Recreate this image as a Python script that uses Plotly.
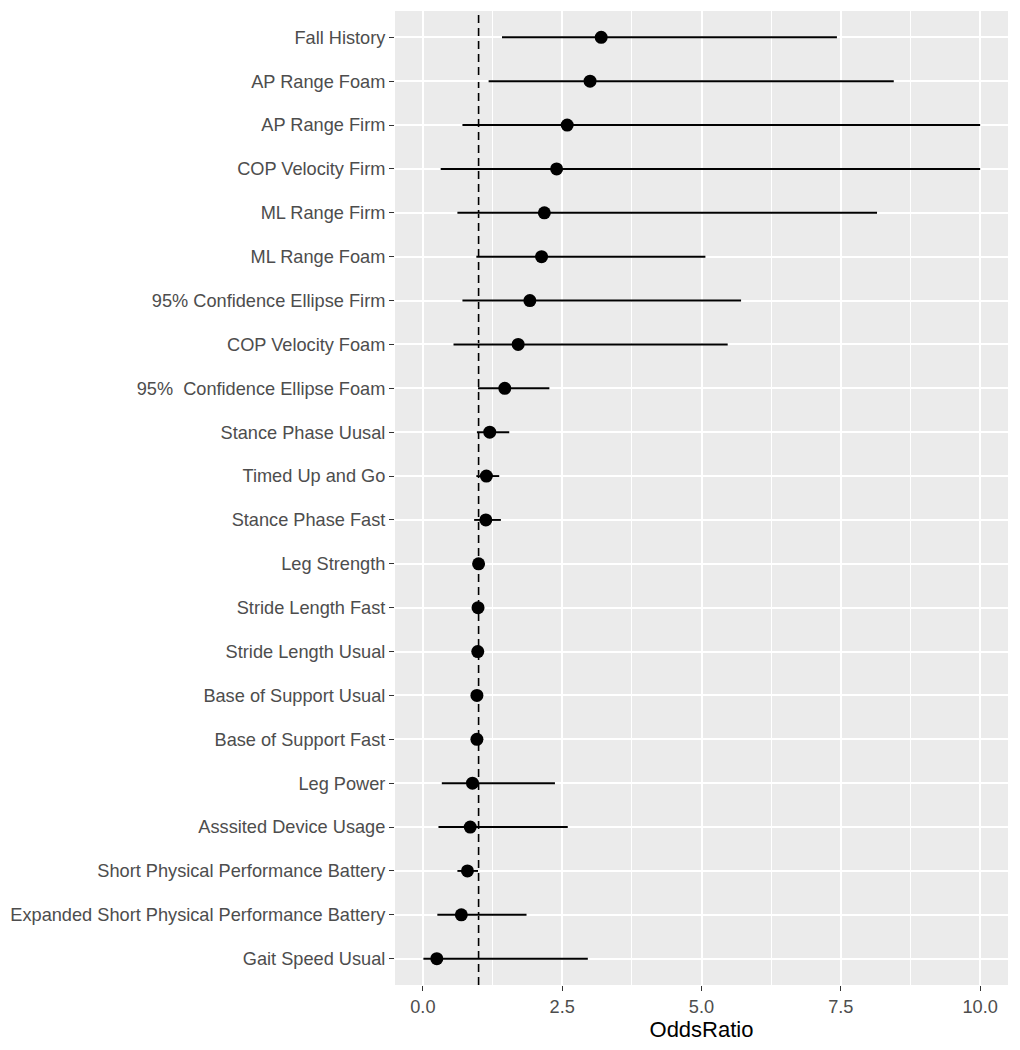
import plotly.graph_objects as go

# Categories listed top to bottom as in the reference
labels = [
    "Fall History", "AP Range Foam", "AP Range Firm", "COP Velocity Firm",
    "ML Range Firm", "ML Range Foam", "95% Confidence Ellipse Firm",
    "COP Velocity Foam", "95%  Confidence Ellipse Foam", "Stance Phase Uusal",
    "Timed Up and Go", "Stance Phase Fast", "Leg Strength", "Stride Length Fast",
    "Stride Length Usual", "Base of Support Usual", "Base of Support Fast",
    "Leg Power", "Asssited Device Usage", "Short Physical Performance Battery",
    "Expanded Short Physical Performance Battery", "Gait Speed Usual",
]
odds = [3.20, 3.00, 2.59, 2.40, 2.18, 2.13, 1.92, 1.71, 1.47, 1.20, 1.14, 1.13,
        1.00, 0.99, 0.985, 0.97, 0.97, 0.89, 0.85, 0.80, 0.69, 0.25]
lower = [1.42, 1.18, 0.71, 0.32, 0.62, 0.96, 0.71, 0.55, 0.99, 0.97, 0.96, 0.92,
         0.99, 0.98, 0.975, 0.96, 0.96, 0.34, 0.28, 0.62, 0.26, 0.01]
upper = [7.43, 8.45, 10.0, 10.0, 8.15, 5.07, 5.71, 5.47, 2.27, 1.55, 1.37, 1.40,
         1.01, 1.00, 0.995, 0.98, 0.98, 2.37, 2.60, 0.99, 1.86, 2.96]
ref_value = 1.0
x_ticks = [0.0, 2.5, 5.0, 7.5, 10.0]
x_ticktext = ["0.0", "2.5", "5.0", "7.5", "10.0"]
x_minor = [1.25, 3.75, 6.25, 8.75]

err_plus = [u - o for u, o in zip(upper, odds)]
err_minus = [o - l for o, l in zip(odds, lower)]

fig = go.Figure()
fig.add_trace(go.Scatter(
    x=odds, y=labels, mode="markers",
    marker=dict(color="black", size=13),
    error_x=dict(type="data", symmetric=False, array=err_plus, arrayminus=err_minus,
                 color="black", thickness=1.9, width=0),
    showlegend=False,
))

fig.add_shape(type="line", x0=ref_value, x1=ref_value, xref="x", y0=0, y1=1, yref="paper",
              line=dict(color="black", width=1.6, dash="8px,5px"), layer="between")

font_family = "Liberation Sans, Arial, sans-serif"
fig.update_layout(
    width=1020, height=1050,
    margin=dict(l=395, r=12, t=11, b=65),
    paper_bgcolor="white", plot_bgcolor="#EBEBEB",
    font=dict(family=font_family, size=18.2, color="#4D4D4D"),
    xaxis=dict(
        range=[-0.5, 10.5], tickvals=x_ticks, ticktext=x_ticktext,
        showgrid=True, gridcolor="white", gridwidth=1.6,
        zeroline=False, showline=False,
        ticks="outside", ticklen=5, tickcolor="#333333", tickwidth=1.1,
        tickfont=dict(size=18.2, color="#4D4D4D"),
        minor=dict(tickvals=x_minor, showgrid=True, gridcolor="white", gridwidth=0.8, ticks=""),
        title=dict(text="OddsRatio", font=dict(size=22, color="black"), standoff=3),
    ),
    yaxis=dict(
        type="category", categoryorder="array", categoryarray=labels[::-1],
        range=[-0.6, len(labels) - 0.4],
        showgrid=True, gridcolor="white", gridwidth=1.6,
        zeroline=False, showline=False,
        ticks="outside", ticklen=5, tickcolor="#333333", tickwidth=1.1,
        tickfont=dict(size=18.2, color="#4D4D4D"),
    ),
)

fig.write_html("out.html", config={"displayModeBar": False},
               post_script="document.body.style.margin='0';document.body.style.padding='0';")
